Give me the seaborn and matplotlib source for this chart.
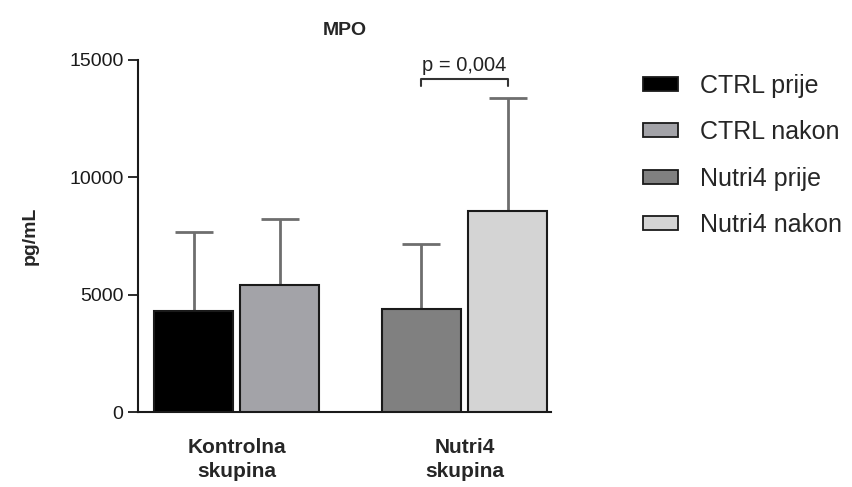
import pandas as pd
import matplotlib.pyplot as plt
import seaborn as sns

# vrijednosti ocitane sa slike (srednja vrijednost i SD, pg/mL)
groups = ["Kontrolna\nskupina", "Nutri4\nskupina"]
times = ["prije", "nakon"]
labels = ["CTRL prije", "CTRL nakon", "Nutri4 prije", "Nutri4 nakon"]
means = [4300, 5400, 4380, 8550]
sds = [3380, 2830, 2790, 4810]
colors = ["#000000", "#a3a3a8", "#808080", "#d4d4d4"]
p_text = "p = 0,004"

df = pd.DataFrame({
    "group": [groups[0], groups[0], groups[1], groups[1]],
    "time": times * 2,
    "label": labels,
    "mean": means,
    "sd": sds,
})

sns.set_theme(style="white")
plt.rcParams["font.family"] = ["Liberation Sans", "DejaVu Sans"]

fig = plt.figure(figsize=(8.53, 4.87), dpi=100)
ax = fig.add_axes([0.162, 0.154, 0.484, 0.723])

sns.barplot(data=df, x="group", y="mean", hue="time", order=groups, hue_order=times,
            width=0.756, gap=0.08, errorbar=None, legend=False,
            edgecolor="#1a1a1a", linewidth=1.5, ax=ax)

# bojanje stupaca i centri za error bare
centers = {}
for ti, cont in enumerate(ax.containers):
    for gi, bar in enumerate(cont):
        row = df[(df["group"] == groups[gi]) & (df["time"] == times[ti])].iloc[0]
        idx = labels.index(row["label"])
        bar.set_facecolor(colors[idx])
        bar.set_zorder(3)
        centers[row["label"]] = bar.get_x() + bar.get_width() / 2

xs = [centers[l] for l in labels]
ax.errorbar(xs, means, yerr=[[0] * 4, sds], fmt="none", ecolor="#6e6e6e",
            elinewidth=2, capsize=14, capthick=2, zorder=2)

# oznaka znacajnosti
x1, x2 = centers["Nutri4 prije"], centers["Nutri4 nakon"]
yb, yt = 13900, 14200
ax.plot([x1, x1, x2, x2], [yb, yt, yt, yb], color="#333333", lw=1.5, clip_on=False)
ax.text((x1 + x2) / 2, 14350, p_text, ha="center", va="bottom", fontsize=14.5, color="#222222")

ax.set_ylim(0, 15000)
ax.set_xlim(-0.433, 1.38)
ax.set_yticks([0, 5000, 10000, 15000])
ax.tick_params(axis="y", which="both", left=True, length=7, width=1.3, labelsize=14,
               colors="#1a1a1a")
ax.tick_params(axis="x", length=0, pad=19)
for t in ax.get_xticklabels():
    t.set_fontsize(15)
    t.set_fontweight("bold")
    t.set_linespacing(1.3)
sns.despine(ax=ax)
for s in ["left", "bottom"]:
    ax.spines[s].set_color("#1a1a1a")
    ax.spines[s].set_linewidth(1.5)

ax.set_xlabel("")
ax.set_ylabel("pg/mL", fontsize=14, fontweight="bold", labelpad=22)
ax.set_title("MPO", fontsize=14, fontweight="bold", pad=18)

handles = [plt.Rectangle((0, 0), 1, 1, facecolor=c, edgecolor="#1a1a1a", linewidth=1.3)
           for c in colors]
fig.legend(handles, labels, loc="upper left", bbox_to_anchor=(0.728, 0.895),
           frameon=False, fontsize=18, handlelength=1.4, handleheight=0.5,
           handletextpad=0.85, labelspacing=0.9)

fig.savefig("out.png", dpi=100)
